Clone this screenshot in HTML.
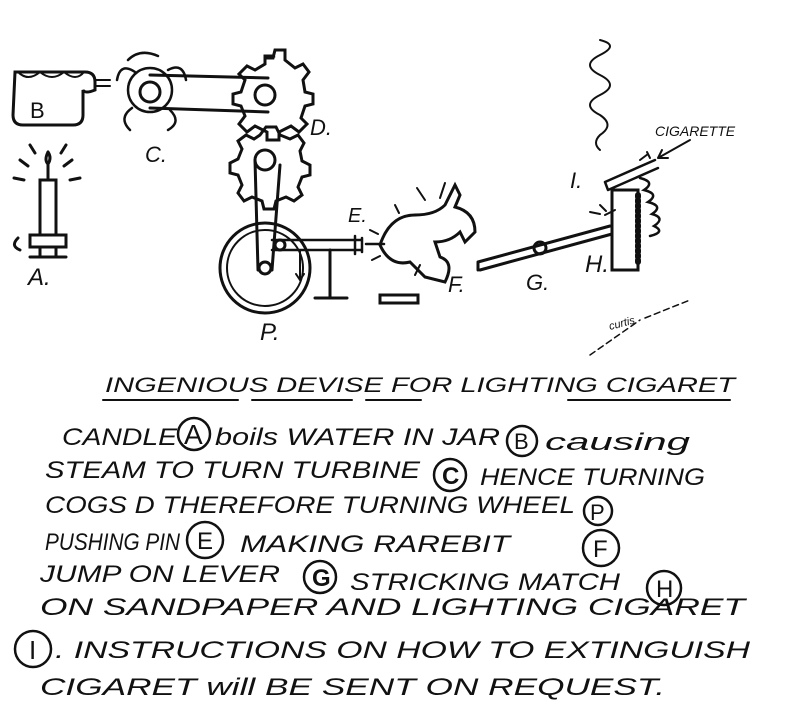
<!DOCTYPE html>
<html><head><meta charset="utf-8"><style>
html,body{margin:0;padding:0;background:#fff;}
svg{display:block}
text{font-family:"Liberation Sans",sans-serif;fill:#111;font-style:italic;}
</style></head><body>
<svg width="800" height="708" viewBox="0 0 800 708" xmlns="http://www.w3.org/2000/svg" stroke="#111" fill="none" stroke-width="3" stroke-linecap="round">
<rect width="800" height="708" fill="#fff" stroke="none"/>
<!-- Candle A -->
<path d="M48 152 q-4 8 0 12 q4 -6 0 -12"/>
<line x1="48" y1="165" x2="48" y2="178"/>
<path d="M20 160 l8 6 M14 178 l10 2 M72 160 l-8 6 M80 178 l-10 2 M30 145 l5 8 M66 145 l-5 8"/>
<rect x="40" y="180" width="16" height="55"/>
<path d="M30 235 h36 v12 h-36 z M40 247 v10 h16 v-10 M30 257 h36 M18 238 q-8 8 2 12"/>
<!-- Jar B -->
<path d="M15 72 h70 q10 0 10 10 v8 q-10 4 -12 0 v25 q0 10 -10 10 h-50 q-10 0 -10 -10 z"/>
<path d="M18 72 q10 10 22 0 q12 10 24 0 q12 10 20 0" stroke-width="2"/>
<path d="M95 80 h15 M96 86 h14" stroke-width="2"/>
<!-- Turbine C -->
<circle cx="150" cy="90" r="22" stroke-width="2.5"/>
<path d="M135 72 q-15 -10 -18 8 M168 70 q15 -8 18 10 M170 110 q12 12 -2 20 M132 108 q-14 10 -2 22 M128 60 q12 -12 30 -4" stroke-width="2.5"/>
<path d="M150 75 L268 78 M150 108 L268 112" stroke-width="3"/>
<circle cx="150" cy="92" r="10"/>
<circle cx="265" cy="95" r="10"/>
<!-- Gear D -->
<path d="M265 58 l8 0 l2 -8 h10 l0 10 l10 8 l8 -4 l6 8 l-6 8 l2 12 l8 2 v10 l-8 2 l-4 12 l6 6 l-8 8 l-8 -6 l-12 6 v8 h-12 v-8 l-12 -6 l-8 6 l-8 -8 l6 -8 l-4 -10 l-8 -2 v-10 l8 -2 l4 -12 l-6 -6 l8 -8 l8 4 l10 -6 v-8 h10 z"/>
<path d="M260 135 l6 -8 h10 l4 8 l10 4 l8 -4 l6 8 l-4 8 l2 10 l8 4 v10 l-8 2 l-4 10 l4 8 l-8 6 l-8 -4 l-10 4 l-2 8 h-10 l-2 -8 l-10 -4 l-8 4 l-6 -8 l4 -8 l-4 -10 l-8 -2 v-10 l8 -4 l4 -10 l-4 -8 l8 -6 l8 4 z"/>
<path d="M255 160 L258 270 M280 165 L272 270" stroke-width="3"/>
<circle cx="265" cy="160" r="10"/>
<!-- Wheel P -->
<circle cx="265" cy="268" r="45"/>
<circle cx="265" cy="268" r="38" stroke-width="2"/>
<circle cx="265" cy="268" r="6"/>
<path d="M300 250 v30 l-4 -6 m4 6 l4 -6" stroke-width="2"/>
<path d="M272 240 h90 M272 250 h90 M355 236 v18 M362 238 v14 M366 244 h18" stroke-width="2.5"/>
<path d="M330 250 v48 M315 298 h32" />
<circle cx="280" cy="245" r="5"/>
<!-- Rabbit F -->
<path d="M380 245 q10 -30 35 -30 q20 0 30 -10 l10 -20 l5 10 l-5 12 q20 5 20 25 l-10 10 l-5 -10 q-10 10 -25 10 l5 15 q15 5 5 25 l-20 -5 l-15 -15 q-20 5 -30 -17 z"/>
<path d="M425 200 l-8 -12 M440 198 l5 -15" stroke-width="2"/>
<rect x="380" y="295" width="38" height="8"/>
<path d="M370 230 l8 4 M372 260 l8 -4 M395 205 l4 8 M420 265 l-5 10" stroke-width="2"/>
<!-- Lever G -->
<path d="M478 262 L610 226 M480 270 L612 234 M478 262 v8" stroke-width="3"/>
<circle cx="540" cy="248" r="6"/>
<rect x="612" y="190" width="26" height="80"/>
<path d="M638 195 v70" stroke-width="6" stroke-dasharray="2 3"/>
<path d="M640 178 q16 4 4 12 q16 4 4 12 q16 4 4 12 q14 4 2 12 q12 6 -4 10" stroke-width="2.5"/>
<path d="M605 215 l10 -5 M600 205 l6 6 M590 212 l10 2" stroke-width="2"/>
<path d="M605 182 L655 160 M608 190 L658 168 M605 182 l3 8" stroke-width="2.5"/>
<path d="M640 160 l8 -6 M650 158 l-3 -6" stroke-width="2"/>
<path d="M600 40 q20 5 0 15 q-20 10 0 20 q20 10 0 20 q-20 10 0 20 q15 10 0 20 q-8 8 0 15" stroke-width="2"/>
<path d="M690 140 L658 158 M658 158 l10 0 M658 158 l4 -8" stroke-width="2"/>
<path d="M590 355 L640 320 M645 318 L690 300" stroke-width="1.5" stroke-dasharray="6 4"/>
<g stroke="none">
<text x="30" y="118" font-size="22" style="font-style:normal">B</text>
<text x="145" y="162" font-size="22">C.</text>
<text x="310" y="135" font-size="22">D.</text>
<text x="28" y="285" font-size="24">A.</text>
<text x="260" y="340" font-size="24">P.</text>
<text x="348" y="222" font-size="20">E.</text>
<text x="448" y="292" font-size="22">F.</text>
<text x="526" y="290" font-size="22">G.</text>
<text x="585" y="272" font-size="24">H.</text>
<text x="570" y="188" font-size="22">I.</text>
<text x="655" y="136" font-size="14">CIGARETTE</text>
<text x="610" y="330" font-size="11" transform="rotate(-15 610 330)">curtis</text>
<text x="105" y="392" font-size="21" textLength="630" lengthAdjust="spacingAndGlyphs">INGENIOUS  DEVISE  FOR  LIGHTING  CIGARET</text>
</g>
<path d="M103 400 h135 M252 400 h100 M366 400 h55 M568 400 h162" stroke-width="2"/>
<g stroke="none" font-size="24">
<text x="62" y="445" textLength="115" lengthAdjust="spacingAndGlyphs">CANDLE</text>
<text x="215" y="445" textLength="285" lengthAdjust="spacingAndGlyphs">boils WATER IN JAR</text>
<text x="545" y="450" textLength="145" lengthAdjust="spacingAndGlyphs">causing</text>
<text x="45" y="478" textLength="375" lengthAdjust="spacingAndGlyphs">STEAM TO TURN TURBINE</text>
<text x="480" y="485" textLength="225" lengthAdjust="spacingAndGlyphs">HENCE TURNING</text>
<text x="45" y="513" textLength="530" lengthAdjust="spacingAndGlyphs">COGS D THEREFORE TURNING WHEEL</text>
<text x="45" y="550" textLength="135" lengthAdjust="spacingAndGlyphs">PUSHING PIN</text>
<text x="240" y="552" textLength="270" lengthAdjust="spacingAndGlyphs">MAKING RAREBIT</text>
<text x="40" y="582" textLength="240" lengthAdjust="spacingAndGlyphs">JUMP ON LEVER</text>
<text x="350" y="590" textLength="270" lengthAdjust="spacingAndGlyphs">STRICKING MATCH</text>
<text x="40" y="615" textLength="705" lengthAdjust="spacingAndGlyphs">ON SANDPAPER AND LIGHTING CIGARET</text>
<text x="55" y="658" textLength="695" lengthAdjust="spacingAndGlyphs">. INSTRUCTIONS ON HOW TO EXTINGUISH</text>
<text x="40" y="695" textLength="625" lengthAdjust="spacingAndGlyphs">CIGARET will BE SENT ON REQUEST.</text>
<text x="184" y="444" font-size="28" style="font-style:normal">A</text>
<text x="514" y="449" font-size="22" style="font-style:normal">B</text>
<text x="442" y="484" font-size="24" style="font-style:normal;font-weight:bold">C</text>
<text x="590" y="520" font-size="22" style="font-style:normal">P</text>
<text x="197" y="549" font-size="24" style="font-style:normal">E</text>
<text x="593" y="557" font-size="24" style="font-style:normal">F</text>
<text x="312" y="586" font-size="24" style="font-style:normal;font-weight:bold">G</text>
<text x="656" y="597" font-size="24" style="font-style:normal">H</text>
<text x="29" y="659" font-size="26" style="font-style:normal">I</text>
</g>
<g stroke-width="2.5">
<circle cx="194" cy="434" r="16"/>
<circle cx="522" cy="441" r="15"/>
<circle cx="450" cy="475" r="16"/>
<circle cx="598" cy="511" r="14"/>
<circle cx="205" cy="540" r="18"/>
<circle cx="601" cy="548" r="18"/>
<circle cx="320" cy="577" r="16"/>
<circle cx="664" cy="588" r="17"/>
<circle cx="33" cy="649" r="18"/>
</g>
</svg>
</body></html>
